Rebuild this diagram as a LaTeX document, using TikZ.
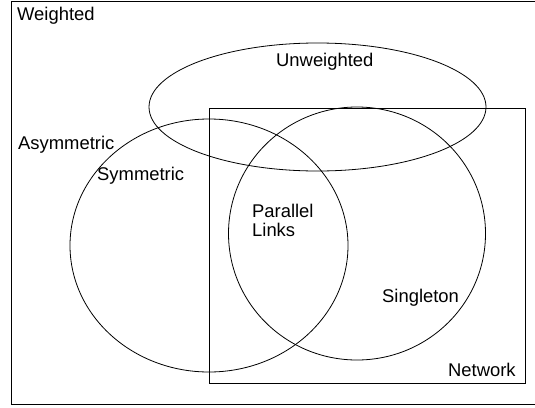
\documentclass[tikz,border=0pt]{standalone}
\usepackage{fontspec}
\setmainfont{Liberation Sans}
\usepackage{tikz}
\usetikzlibrary{shapes,positioning}
\tikzstyle{setline} = [draw=black, line width=0.8pt]
\tikzstyle{setellipse} = [ellipse, setline, inner sep=0pt]
\tikzstyle{setlabel} = [inner sep=0pt, font=\fontsize{18.4}{19}\selectfont]

\begin{document}
\begin{tikzpicture}[x=1pt,y=-1pt]
\clip (0,0) rectangle (535,407);
\useasboundingbox (0,0) rectangle (535,407);
% Weighted (whole frame)
\draw[setline] (11,1.5) rectangle (545,404);
\node[setlabel, anchor=base west] (weighted) at (17,20) {Weighted};

% Network
\draw[setline] (209,108) rectangle (525,383);
\node[setlabel, anchor=base west] (network) at (448,376) {Network};

% Unweighted
\node[setellipse, minimum width=337pt, minimum height=128pt] (unw) at (317.5,107) {};
\node[setlabel, anchor=base west] (unwlabel) at (276,66) {Unweighted};

% Symmetric
\node[setellipse, minimum width=278pt, minimum height=253pt] (sym) at (209,245.5) {};
\node[setlabel, anchor=base west] (asymlabel) at (18,149) {Asymmetric};
\node[setlabel, anchor=base west] (symlabel) at (97,180) {Symmetric};

% Singleton
\node[setellipse, minimum width=257pt, minimum height=253pt] (single) at (357,233.5) {};
\node[setlabel, anchor=base west] (singlelabel) at (382,302) {Singleton};

% Parallel links
\node[setlabel, anchor=north west, align=left] (parallel) at (252,204) {Parallel\\Links};
\end{tikzpicture}
\end{document}
